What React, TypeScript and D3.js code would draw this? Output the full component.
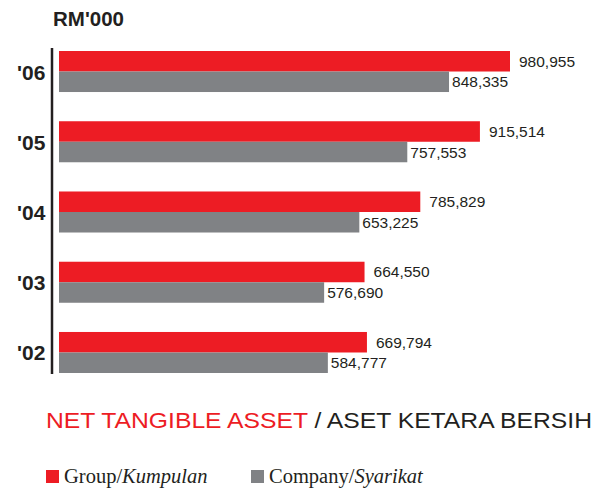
import React from 'react';
import * as d3 from 'd3';

const years = ["'06", "'05", "'04", "'03", "'02"];
const groupValues = [980955, 915514, 785829, 664550, 669794];
const companyValues = [848335, 757553, 653225, 576690, 584777];

const RED = '#ed1c24';
const GREY = '#808285';

export default function App() {
  const width = 598;
  const height = 491;

  const x = d3.scaleLinear().domain([0, 980955]).range([59, 510]);
  const y = d3.scaleBand().domain(years).range([51, 373]).paddingInner(0.416).paddingOuter(0);
  const sub = d3.scaleBand().domain(['group', 'company']).range([0, y.bandwidth()]);
  const fmt = d3.format(',');

  return (
    <svg width={width} height={height} style={{ position: 'absolute', left: 0, top: 0 }}>
      <text x={53} y={26} fontFamily="Liberation Sans, Arial, sans-serif" fontWeight="bold" fontSize={20.5} fill="#231f20">RM'000</text>

      {/* axis */}
      <line x1={52} x2={52} y1={48} y2={374} stroke="#231f20" strokeWidth={2.5} />

      {years.map((yr, i) => {
        const y0 = y(yr) as number;
        const bh = sub.bandwidth();
        return (
          <g key={yr}>
            <text x={17} y={y0 + bh + 8} fontFamily="Liberation Sans, Arial, sans-serif" fontWeight="bold" fontSize={21} fill="#231f20">{yr}</text>
            <rect x={x(0)} y={y0 + (sub('group') as number)} width={x(groupValues[i]) - x(0)} height={bh} fill={RED} />
            <rect x={x(0)} y={y0 + (sub('company') as number)} width={x(companyValues[i]) - x(0)} height={bh} fill={GREY} />
            <text x={x(groupValues[i]) + 9} y={y0 + bh / 2 + 5.5} fontFamily="Liberation Sans, Arial, sans-serif" fontSize={15.5} fill="#231f20">{fmt(groupValues[i])}</text>
            <text x={x(companyValues[i]) + 3} y={y0 + bh * 1.5 + 5.5} fontFamily="Liberation Sans, Arial, sans-serif" fontSize={15.5} fill="#231f20">{fmt(companyValues[i])}</text>
          </g>
        );
      })}

      <text x={46} y={428} fontFamily="Liberation Sans, Arial, sans-serif" fontSize={22} textLength={546} lengthAdjust="spacingAndGlyphs">
        <tspan fill={RED}>NET TANGIBLE ASSET</tspan>
        <tspan fill="#231f20"> / ASET KETARA BERSIH</tspan>
      </text>

      <rect x={46} y={470} width={13} height={13} fill={RED} />
      <text x={64} y={483} fontFamily="Liberation Serif, serif" fontSize={20.5} fill="#231f20">
        Group/<tspan fontStyle="italic">Kumpulan</tspan>
      </text>
      <rect x={251} y={470} width={13} height={13} fill={GREY} />
      <text x={269} y={483} fontFamily="Liberation Serif, serif" fontSize={20.5} fill="#231f20">
        Company/<tspan fontStyle="italic">Syarikat</tspan>
      </text>
    </svg>
  );
}
